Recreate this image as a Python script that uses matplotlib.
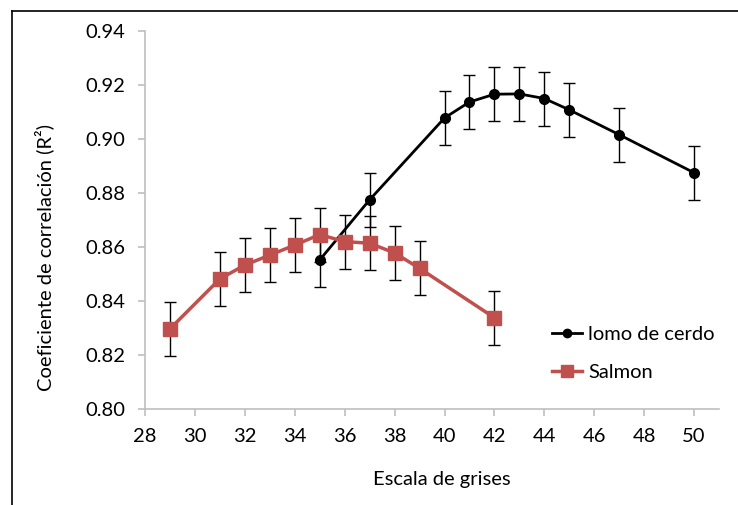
import matplotlib
matplotlib.use("Agg")
import matplotlib.pyplot as plt
from matplotlib.lines import Line2D

plt.rcParams['font.family'] = ['Lato', 'DejaVu Sans']

# lomo de cerdo
cerdo_x = [35, 37, 40, 41, 42, 43, 44, 45, 47, 50]
cerdo_y = [0.8552, 0.8775, 0.9078, 0.9137, 0.9166, 0.9167, 0.9150, 0.9108, 0.9016, 0.8875]
cerdo_err = [0.01] * len(cerdo_x)

# Salmon
salmon_x = [29, 31, 32, 33, 34, 35, 36, 37, 38, 39, 42]
salmon_y = [0.8297, 0.8482, 0.8533, 0.8570, 0.8607, 0.8646, 0.8620, 0.8614, 0.8578, 0.8521, 0.8338]
salmon_err = [0.01] * len(salmon_x)

x_ticks = list(range(28, 51, 2))
y_ticks = [0.80, 0.82, 0.84, 0.86, 0.88, 0.90, 0.92, 0.94]

SALMON = '#C0504D'
GRID = '#BFBFBF'
FS = 14.5

fig = plt.figure(figsize=(7.38, 5.05), dpi=100)
ax = fig.add_axes([0.1965, 0.1901, 0.7778, 0.7485])

# error bars (drawn under the lines/markers)
ax.errorbar(cerdo_x, cerdo_y, yerr=cerdo_err, fmt='none', ecolor='black',
            elinewidth=1, capsize=4, capthick=1, zorder=2)
ax.errorbar(salmon_x, salmon_y, yerr=salmon_err, fmt='none', ecolor='black',
            elinewidth=1, capsize=4, capthick=1, zorder=2)

ax.plot(cerdo_x, cerdo_y, color='black', lw=2, marker='o', ms=7,
        label='lomo de cerdo', zorder=3)
ax.plot(salmon_x, salmon_y, color=SALMON, lw=2.5, marker='s', ms=9.5,
        label='Salmon', zorder=4)

ax.set_xlim(28, 51)
ax.set_ylim(0.80, 0.94)
ax.set_xticks(x_ticks)
ax.set_yticks(y_ticks)
ax.set_yticklabels([f'{v:.2f}' for v in y_ticks])

for side in ['top', 'right']:
    ax.spines[side].set_visible(False)
for side in ['left', 'bottom']:
    ax.spines[side].set_color(GRID)
    ax.spines[side].set_linewidth(1.2)
ax.tick_params(axis='both', colors=GRID, length=5, width=1.2, labelsize=FS,
               labelcolor='black', direction='out')
ax.tick_params(axis='y', pad=9)
ax.tick_params(axis='x', pad=9)

ax.set_xlabel('Escala de grises', fontsize=FS)
ax.set_ylabel('Coeficiente de correlación (R²)', fontsize=FS)
ax.xaxis.set_label_coords(0.517, -0.165)
ax.yaxis.set_label_coords(-0.158, 0.40)

handles = [
    Line2D([], [], color='black', lw=2, marker='o', ms=6),
    Line2D([], [], color=SALMON, lw=2.5, marker='s', ms=8),
]
ax.legend(handles, ['lomo de cerdo', 'Salmon'], loc='upper left',
          bbox_to_anchor=(0.695, 0.24), frameon=False, fontsize=FS,
          handlelength=1.5, handletextpad=0.3, labelspacing=1.0,
          borderpad=0.4, borderaxespad=0)

# chart border (cropped: only top and left visible)
fig.add_artist(Line2D([12 / 738, 12 / 738], [0, 1 - 11 / 505], color='black',
                      lw=1.2, transform=fig.transFigure))
fig.add_artist(Line2D([12 / 738, 1], [1 - 11 / 505, 1 - 11 / 505], color='black',
                      lw=1.2, transform=fig.transFigure))

fig.savefig('out.png', dpi=100)
